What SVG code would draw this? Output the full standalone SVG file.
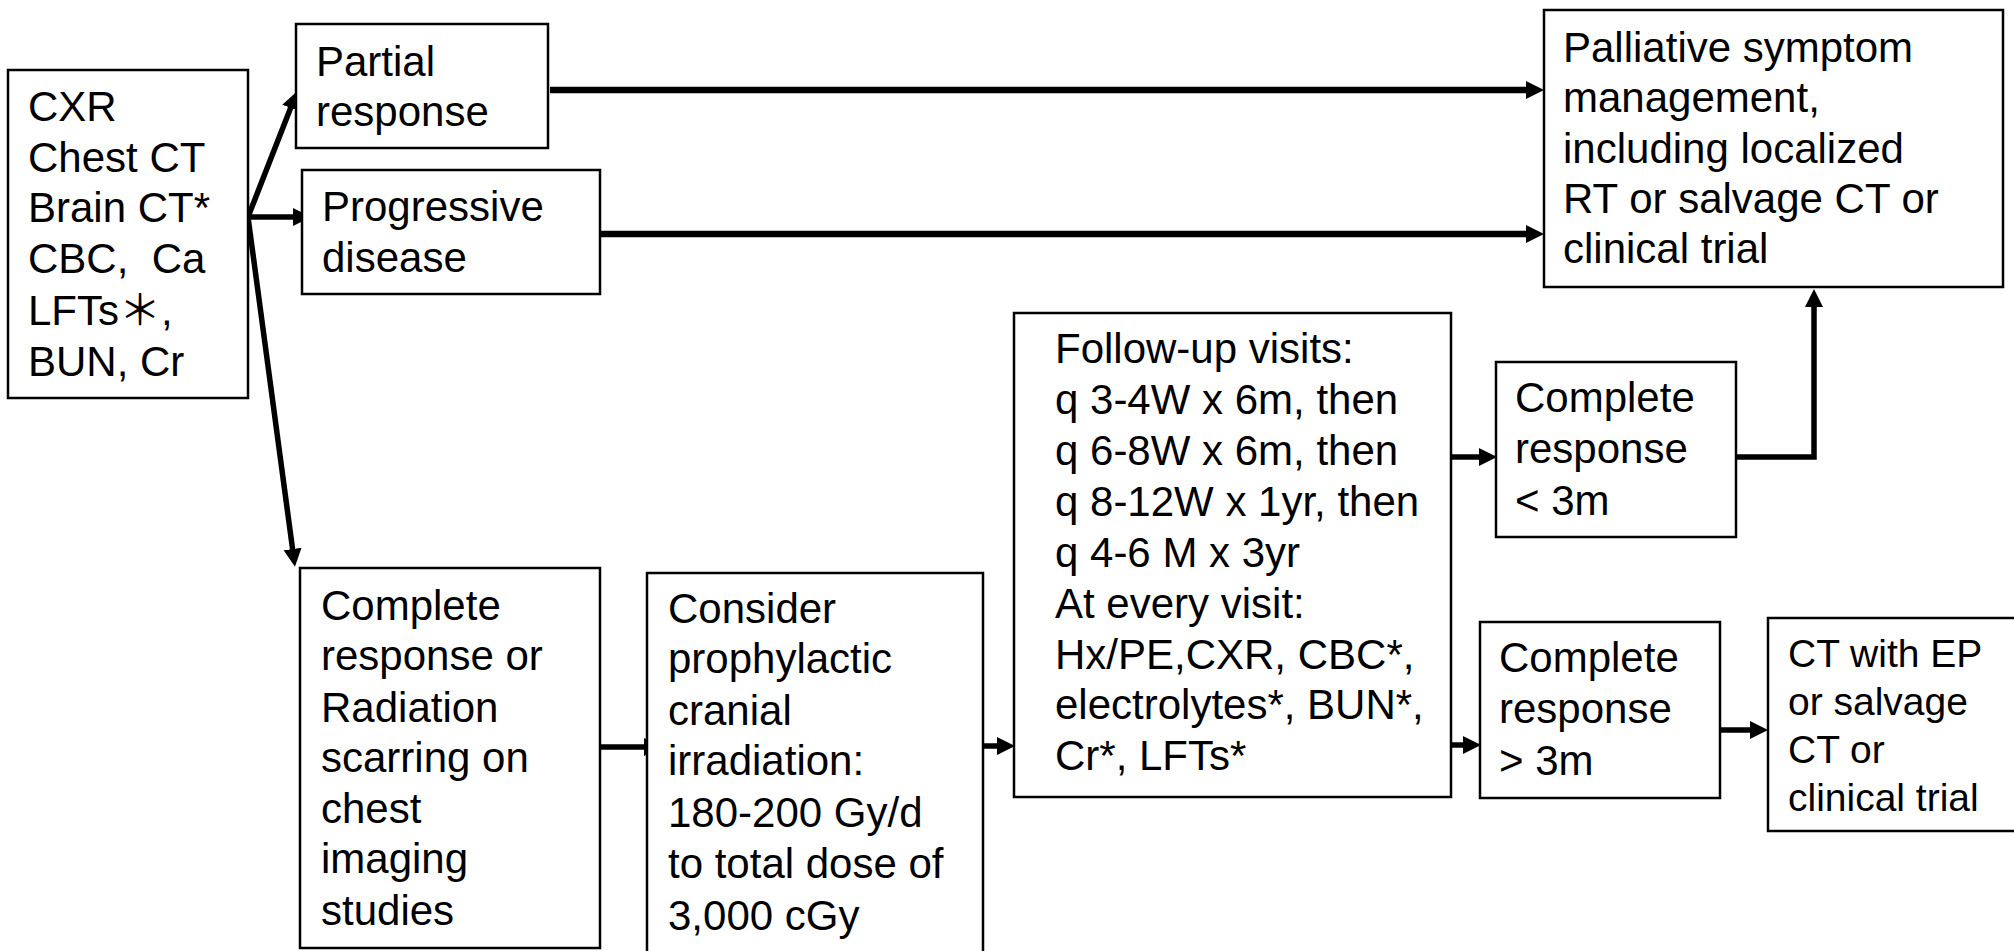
<svg xmlns="http://www.w3.org/2000/svg" width="2014" height="951" viewBox="0 0 2014 951">
<style>
.box{fill:#fff;stroke:#000;stroke-width:2.5}
.t{font-family:"Liberation Sans","Noto Sans CJK SC",Arial,sans-serif;font-size:42px;fill:#000}
.s{font-size:39px}
.c{fill:none;stroke:#000;stroke-width:5.5}
.w{stroke-width:6.5}
</style>
<defs>
<marker id="ah" markerUnits="userSpaceOnUse" markerWidth="20" markerHeight="20" viewBox="0 -10 20 20" refX="1" refY="0" orient="auto">
<path d="M0,-9 L18,0 L0,9 z" fill="#000"/>
</marker>
</defs>
<rect width="2014" height="951" fill="#fff"/>
<g id="connectors">
<line class="c" x1="248" y1="217" x2="291" y2="107" marker-end="url(#ah)"/>
<line class="c" x1="248" y1="217" x2="294" y2="217" marker-end="url(#ah)"/>
<line class="c" x1="248" y1="217" x2="292.7" y2="550" marker-end="url(#ah)"/>
<line class="c w" x1="550" y1="90" x2="1527" y2="90" marker-end="url(#ah)"/>
<line class="c w" x1="600" y1="234" x2="1527" y2="234" marker-end="url(#ah)"/>
<line class="c" x1="600" y1="747" x2="645" y2="747" marker-end="url(#ah)"/>
<line class="c" x1="983" y1="746" x2="998" y2="746" marker-end="url(#ah)"/>
<line class="c" x1="1451" y1="457" x2="1480" y2="457" marker-end="url(#ah)"/>
<line class="c" x1="1451" y1="745" x2="1464" y2="745" marker-end="url(#ah)"/>
<line class="c" x1="1720" y1="730" x2="1751" y2="730" marker-end="url(#ah)"/>
<polyline class="c" points="1736,457 1814,457 1814,306" marker-end="url(#ah)"/>
</g>
<g id="workup">
<rect class="box" x="8" y="70" width="240" height="328"/>
<text class="t" x="28" y="121">CXR</text>
<text class="t" x="28" y="172">Chest CT</text>
<text class="t" x="28" y="222">Brain CT*</text>
<text class="t" x="28" y="273" style="white-space:pre">CBC,  Ca</text>
<text class="t" x="28" y="325">LFTs＊,</text>
<text class="t" x="28" y="376">BUN, Cr</text>
</g>
<g id="partial">
<rect class="box" x="296" y="24" width="252" height="124"/>
<text class="t" x="316" y="76">Partial</text>
<text class="t" x="316" y="126">response</text>
</g>
<g id="progressive">
<rect class="box" x="302" y="170" width="298" height="124"/>
<text class="t" x="322" y="221">Progressive</text>
<text class="t" x="322" y="272">disease</text>
</g>
<g id="palliative">
<rect class="box" x="1544" y="10" width="459" height="277"/>
<text class="t" x="1563" y="62">Palliative symptom</text>
<text class="t" x="1563" y="112">management,</text>
<text class="t" x="1563" y="163">including localized</text>
<text class="t" x="1563" y="213">RT or salvage CT or</text>
<text class="t" x="1563" y="263">clinical trial</text>
</g>
<g id="complete-or-scarring">
<rect class="box" x="300" y="568" width="300" height="380"/>
<text class="t" x="321" y="620">Complete</text>
<text class="t" x="321" y="670">response or</text>
<text class="t" x="321" y="722">Radiation</text>
<text class="t" x="321" y="772">scarring on</text>
<text class="t" x="321" y="823">chest</text>
<text class="t" x="321" y="873">imaging</text>
<text class="t" x="321" y="925">studies</text>
</g>
<g id="pci">
<rect class="box" x="647" y="573" width="336" height="385"/>
<text class="t" x="668" y="623">Consider</text>
<text class="t" x="668" y="673">prophylactic</text>
<text class="t" x="668" y="725">cranial</text>
<text class="t" x="668" y="775">irradiation:</text>
<text class="t" x="668" y="827">180-200 Gy/d</text>
<text class="t" x="668" y="878">to total dose of</text>
<text class="t" x="668" y="930">3,000 cGy</text>
</g>
<g id="followup">
<rect class="box" x="1014" y="313" width="437" height="484"/>
<text class="t" x="1055" y="363">Follow-up visits:</text>
<text class="t" x="1055" y="414">q 3-4W x 6m, then</text>
<text class="t" x="1055" y="465">q 6-8W x 6m, then</text>
<text class="t" x="1055" y="516">q 8-12W x 1yr, then</text>
<text class="t" x="1055" y="567">q 4-6 M x 3yr</text>
<text class="t" x="1055" y="618">At every visit:</text>
<text class="t" x="1055" y="669">Hx/PE,CXR, CBC*,</text>
<text class="t" x="1055" y="719">electrolytes*, BUN*,</text>
<text class="t" x="1055" y="770">Cr*, LFTs*</text>
</g>
<g id="cr-lt3m">
<rect class="box" x="1496" y="362" width="240" height="175"/>
<text class="t" x="1515" y="412">Complete</text>
<text class="t" x="1515" y="463">response</text>
<text class="t" x="1515" y="515">&lt; 3m</text>
</g>
<g id="cr-gt3m">
<rect class="box" x="1480" y="622" width="240" height="176"/>
<text class="t" x="1499" y="672">Complete</text>
<text class="t" x="1499" y="723">response</text>
<text class="t" x="1499" y="775">&gt; 3m</text>
</g>
<g id="ct-ep">
<rect class="box" x="1768" y="618" width="250" height="213"/>
<text class="t s" x="1788" y="667">CT with EP</text>
<text class="t s" x="1788" y="715">or salvage</text>
<text class="t s" x="1788" y="763">CT or</text>
<text class="t s" x="1788" y="811">clinical trial</text>
</g>
</svg>
